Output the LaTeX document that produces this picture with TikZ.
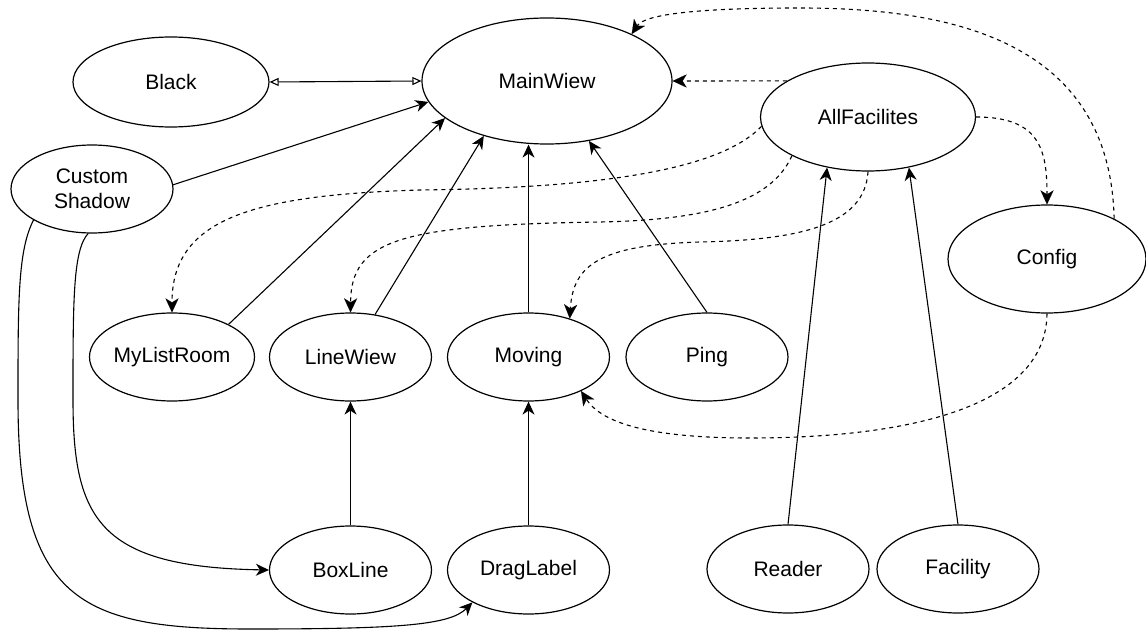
\documentclass[tikz,border=0pt]{standalone}
\usepackage{fontspec}
\setmainfont{Liberation Sans}
\usetikzlibrary{shapes.geometric,arrows.meta}
\begin{document}
\begin{tikzpicture}[x=1pt,y=-1pt,
  ent/.style={ellipse, draw, line width=1.2pt, inner sep=0pt,
    minimum width=162pt, minimum height=88pt,
    font=\fontsize{21}{25}\selectfont, align=center},
  dep/.style={line width=1.1pt, -{Stealth[length=13pt,width=12pt,inset=4pt]}},
  dashdep/.style={line width=1.1pt, dash pattern=on 4pt off 4pt,
    -{Stealth[length=14pt,width=13pt,inset=4pt,line width=0.01pt]}},
  gen/.style={line width=1.1pt, {Triangle[open,length=9pt,width=8pt]}-{Triangle[open,length=9pt,width=8pt]}}
]
\useasboundingbox (0,0) rectangle (1146,631);

\node[ent, minimum width=196pt, minimum height=90pt] (Black) at (171,82) {Black};
\node[ent, minimum width=250pt, minimum height=126pt] (MW) at (547,81) {MainWiew};
\node[ent, minimum width=215pt, minimum height=108pt] (AF) at (868,117) {AllFacilites};
\node[ent, minimum width=198pt, minimum height=108pt] (Config) at (1047,259) {Config};
\node[ent] (CS) at (92,189) {Custom\\Shadow};
\node[ent] (MLR) at (172,357) {MyListRoom};
\node[ent] (LW) at (350.5,357) {LineWiew};
\node[ent] (Mov) at (528.5,357) {Moving};
\node[ent] (Ping) at (707,357) {Ping};
\node[ent] (BL) at (350.5,570) {BoxLine};
\node[ent] (DL) at (528.5,570) {DragLabel};
\node[ent] (Reader) at (788,569) {Reader};
\node[ent] (Fac) at (958,569) {Facility};

% solid dependencies
\draw[gen] (Black.east) -- (MW.west);
\draw[dep] (CS.3) -- (MW.190);
\draw[dep] (MLR.30) -- (MW.200);
\draw[dep] (LW.60) -- (MW.221);
\draw[dep] (Mov.north) -- (Mov.north |- MW.south);
\draw[dep] (Ping.north) -- (MW.305);
\draw[dep] (BL.north) -- (LW.south);
\draw[dep] (DL.north) -- (Mov.south);
\draw[dep] (Reader.north) -- (AF.231);
\draw[dep] (Fac.north) -- (AF.309);
\draw[dep] (CS.265) .. controls (73,250) and (73,300) .. (73,400)
  .. controls (73,520) and (100,567) .. (BL.west);
\draw[dep] (CS.208) .. controls (18,250) and (18,300) .. (18,400)
  .. controls (18,600) and (80,629) .. (250,629)
  .. controls (400,629) and (450,625) .. (DL.210);

% dashed dependencies
\draw[dashdep] (AF.156) -- (MW.east);
\draw[dashdep] (Config.31) .. controls (1110,40) and (950,8) .. (800,8)
  .. controls (700,8) and (645,14) .. (MW.29);
\draw[dashdep] (AF.east) .. controls (1040,117) and (1047,150) .. (Config.north);
\draw[dashdep] (AF.185) .. controls (720,170) and (600,188) .. (420,190)
  .. controls (250,195) and (172,220) .. (MLR.north);
\draw[dashdep] (AF.207) .. controls (770,205) and (700,220) .. (600,222)
  .. controls (400,225) and (351,240) .. (LW.north);
\draw[dashdep] (AF.south) .. controls (865,225) and (800,240) .. (700,242)
  .. controls (600,245) and (573,265) .. (Mov.43);
\draw[dashdep] (Config.south) .. controls (1046,410) and (900,438) .. (750,438)
  .. controls (640,438) and (600,420) .. (Mov.327);
\end{tikzpicture}
\end{document}
